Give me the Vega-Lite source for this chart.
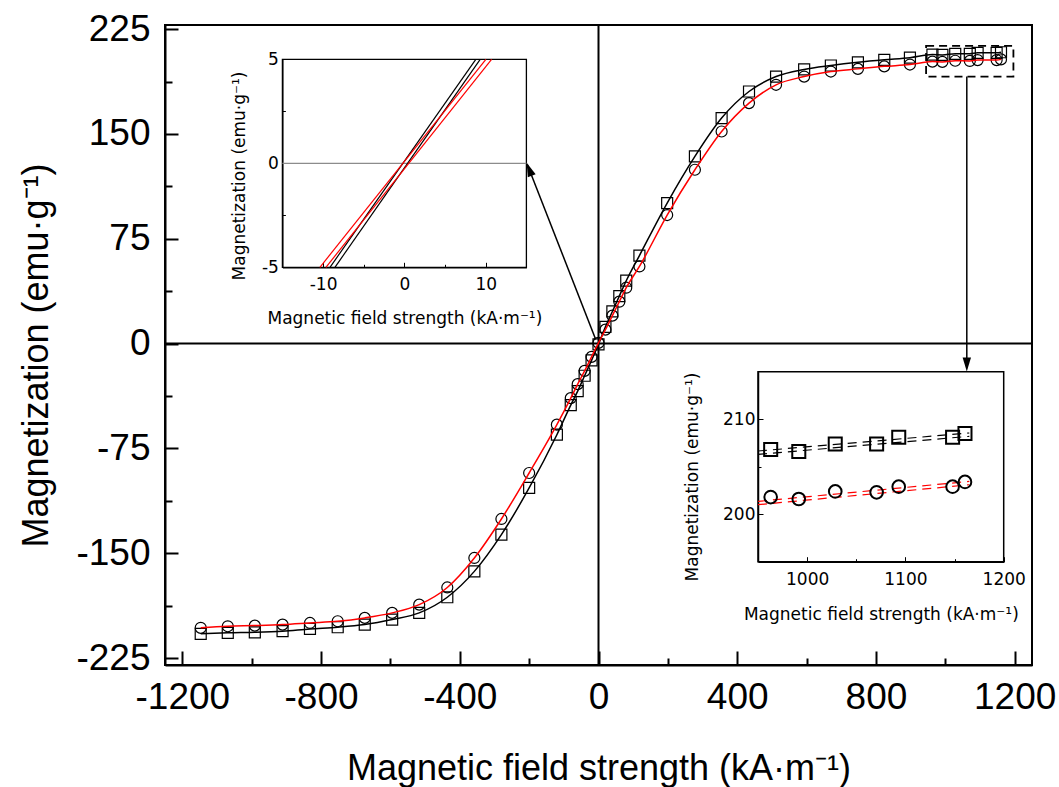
{
  "$schema": "https://vega.github.io/schema/vega-lite/v6.json",
  "width": 867,
  "height": 640,
  "autosize": "none",
  "padding": {"left": 165, "top": 25, "right": 27, "bottom": 122},
  "background": "white",
  "config": {
    "view": {"stroke": "black", "strokeWidth": 2},
    "font": "Liberation Sans",
    "axis": {"grid": false, "labelColor": "black", "titleColor": "black", "titleFontWeight": "normal", "domainColor": "black", "tickColor": "black", "labelOverlap": false, "labelFlush": false}
  },
  "datasets": {
    "one": [{"k": 1}],
    "mainS": [
      {"H": -1147, "M": -207.7}, {"H": -1069, "M": -207.0}, {"H": -991, "M": -206.6}, {"H": -911, "M": -205.8},
      {"H": -832, "M": -204.2}, {"H": -752, "M": -203.0}, {"H": -674, "M": -201.1}, {"H": -595, "M": -197.5},
      {"H": -517, "M": -192.7}, {"H": -436, "M": -181.5}, {"H": -358, "M": -163.0}, {"H": -280, "M": -136.7},
      {"H": -200, "M": -103.3}, {"H": -120, "M": -65.2}, {"H": -80, "M": -44}, {"H": -60, "M": -34},
      {"H": -40, "M": -23}, {"H": -20, "M": -12}, {"H": 0, "M": -0.5}, {"H": 20, "M": 12},
      {"H": 40, "M": 23}, {"H": 60, "M": 34}, {"H": 80, "M": 45}, {"H": 118, "M": 63},
      {"H": 198, "M": 100.6}, {"H": 278, "M": 134}, {"H": 355, "M": 161.4}, {"H": 434, "M": 180.4},
      {"H": 512, "M": 191.1}, {"H": 593, "M": 196.2}, {"H": 670, "M": 199.0}, {"H": 748, "M": 201.3},
      {"H": 824, "M": 203.1}, {"H": 898, "M": 204.6}, {"H": 962.9, "M": 206.8}, {"H": 991.5, "M": 206.6},
      {"H": 1028.6, "M": 207.4}, {"H": 1070.7, "M": 207.4}, {"H": 1093.2, "M": 208.1}, {"H": 1148, "M": 208.1},
      {"H": 1160.6, "M": 208.5}
    ],
    "mainC": [
      {"H": -1147, "M": -203.4}, {"H": -1069, "M": -202.3}, {"H": -991, "M": -201.8}, {"H": -911, "M": -201.1},
      {"H": -832, "M": -199.9}, {"H": -752, "M": -198.7}, {"H": -674, "M": -196.3}, {"H": -595, "M": -192.7},
      {"H": -517, "M": -186.8}, {"H": -436, "M": -174.5}, {"H": -358, "M": -153.4}, {"H": -280, "M": -125.5},
      {"H": -200, "M": -92.6}, {"H": -120, "M": -58}, {"H": -80, "M": -39}, {"H": -60, "M": -29},
      {"H": -40, "M": -19.5}, {"H": -20, "M": -9.5}, {"H": 0, "M": 0.5}, {"H": 20, "M": 10},
      {"H": 40, "M": 20}, {"H": 60, "M": 30}, {"H": 80, "M": 40}, {"H": 118, "M": 55.2},
      {"H": 198, "M": 92}, {"H": 278, "M": 124.4}, {"H": 355, "M": 151.8}, {"H": 434, "M": 172.1},
      {"H": 512, "M": 185.2}, {"H": 593, "M": 191.1}, {"H": 670, "M": 194.7}, {"H": 748, "M": 196.6},
      {"H": 824, "M": 198.4}, {"H": 898, "M": 199.7}, {"H": 962.9, "M": 201.8}, {"H": 991.5, "M": 201.6},
      {"H": 1028.6, "M": 202.4}, {"H": 1070.7, "M": 202.3}, {"H": 1093.2, "M": 202.9}, {"H": 1148, "M": 202.9},
      {"H": 1160.6, "M": 203.4}
    ],
    "in1K": [{"H": -9.15, "M": -5, "g": "a"}, {"H": 8.78, "M": 5, "g": "a"}, {"H": -8.54, "M": -5, "g": "b"}, {"H": 9.32, "M": 5, "g": "b"}],
    "in1R": [{"H": -10.39, "M": -5, "g": "a"}, {"H": 10.02, "M": 5, "g": "a"}, {"H": -9.65, "M": -5, "g": "b"}, {"H": 10.72, "M": 5, "g": "b"}],
    "in2S": [{"H": 962.9, "M": 206.8}, {"H": 991.5, "M": 206.6}, {"H": 1028.6, "M": 207.4}, {"H": 1070.7, "M": 207.4}, {"H": 1093.2, "M": 208.1}, {"H": 1148, "M": 208.1}, {"H": 1160.6, "M": 208.5}],
    "in2C": [{"H": 962.9, "M": 201.8}, {"H": 991.5, "M": 201.6}, {"H": 1028.6, "M": 202.4}, {"H": 1070.7, "M": 202.3}, {"H": 1093.2, "M": 202.9}, {"H": 1148, "M": 202.9}, {"H": 1160.6, "M": 203.4}],
    "in2KF": [{"H": 950, "M": 206.3, "g": "a"}, {"H": 1165, "M": 208.2, "g": "a"}, {"H": 950, "M": 206.65, "g": "b"}, {"H": 1165, "M": 208.55, "g": "b"}],
    "in2RF": [{"H": 950, "M": 201.0, "g": "a"}, {"H": 1165, "M": 203.1, "g": "a"}, {"H": 950, "M": 201.35, "g": "b"}, {"H": 1165, "M": 203.45, "g": "b"}],
    "box": [{"H": 944.6, "H2": 1196.4, "M": 191.1, "M2": 213.1}],
    "arrows": [{"H": -8, "M": 3, "H2": -205, "M2": 128}, {"H": 1062, "M": 191.1, "H2": 1062, "M2": -16}],
    "head1": [{"H": -199.8, "M": 124.8}],
    "head2": [{"H": 1062, "M": -14.9}]
  },
  "layer": [
    {
      "layer": [
        {
          "data": {"name": "one"},
          "mark": {"type": "rule", "color": "black", "strokeWidth": 2},
          "encoding": {
            "y": {"datum": 0, "type": "quantitative",
              "scale": {"domain": [-230, 228], "nice": false, "zero": false},
              "axis": {"orient": "left", "values": [-225, -187.5, -150, -112.5, -75, -37.5, 0, 37.5, 75, 112.5, 150, 187.5, 225],
                "labelExpr": "datum.value % 75 === 0 ? '' + datum.value : ''",
                "tickSize": {"condition": {"test": "datum.value % 75 === 0", "value": -13}, "value": -7},
                "tickWidth": 2, "domainWidth": 2, "labelFontSize": 37, "labelFont": "Liberation Sans", "labelPadding": 28,
                "title": "Magnetization (emu·g⁻¹)", "titleFont": "Liberation Sans", "titleFontSize": 36,
                "titleX": -118, "titleY": 330, "titleBaseline": "alphabetic", "titleAngle": -90}
            }
          }
        },
        {
          "data": {"name": "one"},
          "mark": {"type": "rule", "color": "black", "strokeWidth": 2},
          "encoding": {
            "x": {"datum": 0, "type": "quantitative",
              "scale": {"domain": [-1250, 1250], "nice": false, "zero": false},
              "axis": {"orient": "bottom", "values": [-1200, -1000, -800, -600, -400, -200, 0, 200, 400, 600, 800, 1000, 1200],
                "labelExpr": "datum.value % 400 === 0 ? '' + datum.value : ''",
                "tickSize": {"condition": {"test": "datum.value % 400 === 0", "value": -14}, "value": -7},
                "tickWidth": 2, "domainWidth": 2, "labelFontSize": 37, "labelFont": "Liberation Sans", "labelPadding": 28,
                "title": "Magnetic field strength (kA·m⁻¹)", "titleFont": "Liberation Sans", "titleFontSize": 36,
                "titleY": 114, "titleBaseline": "alphabetic"}
            }
          }
        },
        {
          "data": {"name": "mainS"},
          "mark": {"type": "line", "color": "black", "strokeWidth": 1.5, "interpolate": "monotone"},
          "encoding": {
            "x": {"field": "H", "type": "quantitative"},
            "y": {"field": "M", "type": "quantitative"}
          }
        },
        {
          "data": {"name": "mainS"},
          "mark": {"type": "point", "shape": "square", "filled": false, "stroke": "black", "strokeWidth": 1.2, "size": 121, "opacity": 1},
          "encoding": {
            "x": {"field": "H", "type": "quantitative"},
            "y": {"field": "M", "type": "quantitative"}
          }
        },
        {
          "data": {"name": "mainC"},
          "mark": {"type": "point", "shape": "circle", "filled": false, "stroke": "black", "strokeWidth": 1.2, "size": 121, "opacity": 1},
          "encoding": {
            "x": {"field": "H", "type": "quantitative"},
            "y": {"field": "M", "type": "quantitative"}
          }
        },
        {
          "data": {"name": "mainC"},
          "mark": {"type": "line", "color": "#ff0000", "strokeWidth": 1.5, "interpolate": "monotone"},
          "encoding": {
            "x": {"field": "H", "type": "quantitative"},
            "y": {"field": "M", "type": "quantitative"}
          }
        },
        {
          "data": {"name": "box"},
          "mark": {"type": "rect", "fillOpacity": 0, "stroke": "black", "strokeWidth": 1.8, "strokeDash": [8, 5]},
          "encoding": {
            "x": {"field": "H", "type": "quantitative"},
            "x2": {"field": "H2"},
            "y": {"field": "M", "type": "quantitative"},
            "y2": {"field": "M2"}
          }
        },
        {
          "data": {"name": "arrows"},
          "mark": {"type": "rule", "color": "black", "strokeWidth": 1.5},
          "encoding": {
            "x": {"field": "H", "type": "quantitative"},
            "x2": {"field": "H2"},
            "y": {"field": "M", "type": "quantitative"},
            "y2": {"field": "M2"}
          }
        },
        {
          "data": {"name": "head1"},
          "mark": {"type": "point", "shape": "M0,-1L0.6,1L-0.6,1Z", "filled": true, "color": "black", "opacity": 1, "size": 196, "angle": 338.9},
          "encoding": {
            "x": {"field": "H", "type": "quantitative"},
            "y": {"field": "M", "type": "quantitative"}
          }
        },
        {
          "data": {"name": "head2"},
          "mark": {"type": "point", "shape": "M0,-1L0.6,1L-0.6,1Z", "filled": true, "color": "black", "opacity": 1, "size": 196, "angle": 180},
          "encoding": {
            "x": {"field": "H", "type": "quantitative"},
            "y": {"field": "M", "type": "quantitative"}
          }
        }
      ]
    },
    {
      "layer": [
        {
          "data": {"name": "one"},
          "mark": {"type": "rect", "fillOpacity": 0, "stroke": "black", "strokeWidth": 1.3},
          "encoding": {
            "x": {"datum": -15, "type": "quantitative",
              "scale": {"domain": [-15, 15], "range": [117.4, 361.4], "nice": false, "zero": false},
              "axis": {"orient": "bottom", "offset": -397.7, "values": [-10, -5, 0, 5, 10],
                "labelExpr": "datum.value % 10 === 0 ? '' + datum.value : ''",
                "tickSize": {"condition": {"test": "datum.value % 10 === 0", "value": -5}, "value": -3},
                "tickWidth": 1, "domainWidth": 1.3, "labelFont": "DejaVu Sans", "labelFontSize": 17, "labelPadding": 14,
                "title": "Magnetic field strength (kA·m⁻¹)", "titleFont": "DejaVu Sans", "titleFontSize": 17,
                "titleY": 56, "titleBaseline": "alphabetic"}
            },
            "x2": {"datum": 15},
            "y": {"datum": -5, "type": "quantitative",
              "scale": {"domain": [-5, 5], "range": [242.3, 34.3], "nice": false, "zero": false},
              "axis": {"orient": "left", "offset": -117.4, "values": [-5, -2.5, 0, 2.5, 5],
                "labelExpr": "datum.value % 5 === 0 ? '' + datum.value : ''",
                "tickSize": {"condition": {"test": "datum.value % 5 === 0", "value": -5}, "value": -3},
                "tickWidth": 1, "domainWidth": 1.3, "labelFont": "DejaVu Sans", "labelFontSize": 17, "labelPadding": 9,
                "title": "Magnetization (emu·g⁻¹)", "titleFont": "DejaVu Sans", "titleFontSize": 17,
                "titleX": -38, "titleY": 150.5, "titleBaseline": "alphabetic", "titleAngle": -90}
            },
            "y2": {"datum": 5}
          }
        },
        {
          "data": {"name": "one"},
          "mark": {"type": "rule", "color": "#8c8c8c", "strokeWidth": 1.2},
          "encoding": {
            "x": {"datum": -15, "type": "quantitative"},
            "x2": {"datum": 15},
            "y": {"datum": 0, "type": "quantitative"}
          }
        },
        {
          "data": {"name": "in1K"},
          "mark": {"type": "line", "color": "black", "strokeWidth": 1.2},
          "encoding": {
            "x": {"field": "H", "type": "quantitative"},
            "y": {"field": "M", "type": "quantitative"},
            "detail": {"field": "g"}
          }
        },
        {
          "data": {"name": "in1R"},
          "mark": {"type": "line", "color": "#ff0000", "strokeWidth": 1.2},
          "encoding": {
            "x": {"field": "H", "type": "quantitative"},
            "y": {"field": "M", "type": "quantitative"},
            "detail": {"field": "g"}
          }
        }
      ]
    },
    {
      "layer": [
        {
          "data": {"name": "one"},
          "mark": {"type": "rect", "fillOpacity": 0, "stroke": "black", "strokeWidth": 1.5},
          "encoding": {
            "x": {"datum": 950, "type": "quantitative",
              "scale": {"domain": [950, 1200], "range": [593, 838.7], "nice": false, "zero": false},
              "axis": {"orient": "bottom", "offset": -103.3, "values": [1000, 1050, 1100, 1150, 1200],
                "labelExpr": "datum.value % 100 === 0 ? '' + datum.value : ''",
                "tickSize": {"condition": {"test": "datum.value % 100 === 0", "value": -5}, "value": -3},
                "tickWidth": 1, "domainWidth": 1.5, "labelFont": "DejaVu Sans", "labelFontSize": 17, "labelPadding": 15,
                "title": "Magnetic field strength (kA·m⁻¹)", "titleFont": "DejaVu Sans", "titleFontSize": 17,
                "titleY": 58, "titleBaseline": "alphabetic"}
            },
            "x2": {"datum": 1200},
            "y": {"datum": 195, "type": "quantitative",
              "scale": {"domain": [195, 215], "range": [536.7, 346.7], "nice": false, "zero": false},
              "axis": {"orient": "left", "offset": -593, "values": [200, 205, 210],
                "labelExpr": "datum.value % 10 === 0 ? '' + datum.value : ''",
                "tickSize": {"condition": {"test": "datum.value % 10 === 0", "value": -5}, "value": -3},
                "tickWidth": 1, "domainWidth": 1.5, "labelFont": "DejaVu Sans", "labelFontSize": 17, "labelPadding": 8,
                "title": "Magnetization (emu·g⁻¹)", "titleFont": "DejaVu Sans", "titleFontSize": 17,
                "titleX": -61, "titleY": 451.5, "titleBaseline": "alphabetic", "titleAngle": -90}
            },
            "y2": {"datum": 215}
          }
        },
        {
          "data": {"name": "in2KF"},
          "mark": {"type": "line", "color": "black", "strokeWidth": 1.2, "strokeDash": [9, 6]},
          "encoding": {
            "x": {"field": "H", "type": "quantitative"},
            "y": {"field": "M", "type": "quantitative"},
            "detail": {"field": "g"}
          }
        },
        {
          "data": {"name": "in2RF"},
          "mark": {"type": "line", "color": "#ff0000", "strokeWidth": 1.2, "strokeDash": [9, 6]},
          "encoding": {
            "x": {"field": "H", "type": "quantitative"},
            "y": {"field": "M", "type": "quantitative"},
            "detail": {"field": "g"}
          }
        },
        {
          "data": {"name": "in2S"},
          "mark": {"type": "point", "shape": "square", "filled": false, "stroke": "black", "strokeWidth": 2, "size": 170, "opacity": 1},
          "encoding": {
            "x": {"field": "H", "type": "quantitative"},
            "y": {"field": "M", "type": "quantitative"}
          }
        },
        {
          "data": {"name": "in2C"},
          "mark": {"type": "point", "shape": "circle", "filled": false, "stroke": "black", "strokeWidth": 2, "size": 160, "opacity": 1},
          "encoding": {
            "x": {"field": "H", "type": "quantitative"},
            "y": {"field": "M", "type": "quantitative"}
          }
        }
      ]
    }
  ],
  "resolve": {"scale": {"x": "independent", "y": "independent"}}
}
